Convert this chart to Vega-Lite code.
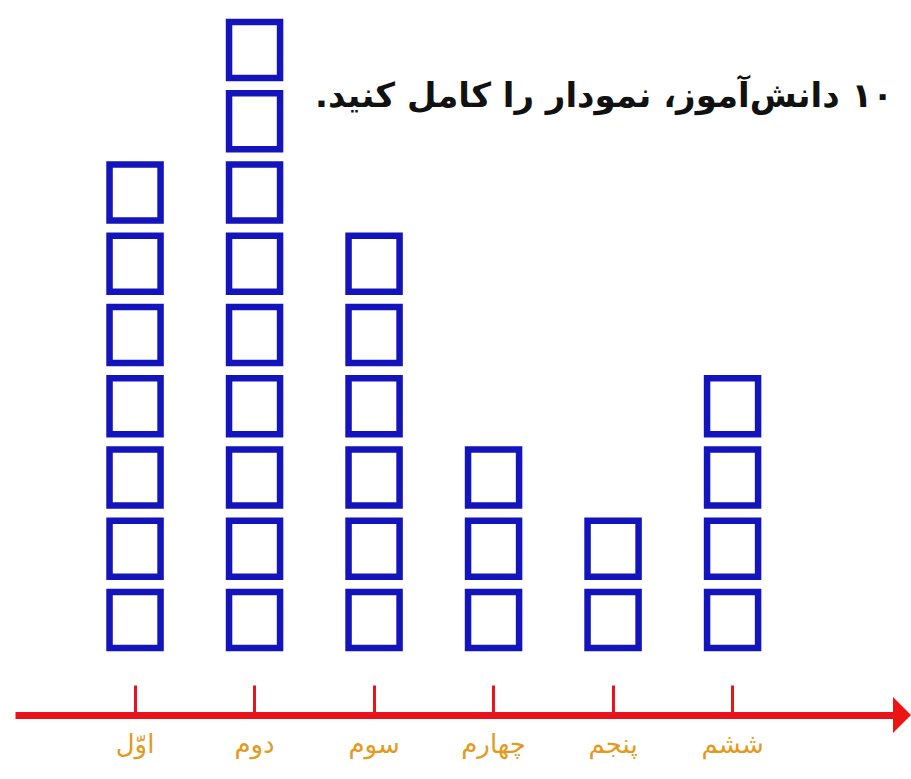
{
  "$schema": "https://vega.github.io/schema/vega-lite/v6.json",
  "width": 878,
  "height": 701,
  "autosize": {"type": "none"},
  "padding": {"left": 15, "top": 14, "right": 18, "bottom": 64},
  "background": "white",
  "config": {"view": {"stroke": null}},
  "title": {
    "text": "\u202b۱۰ دانش\u200cآموز، نمودار را کامل کنید.\u202c",
    "orient": "top",
    "anchor": "end",
    "frame": "group",
    "offset": -100,
    "font": "DejaVu Sans",
    "fontSize": 34,
    "fontWeight": "bold",
    "color": "#111111"
  },
  "layer": [
    {
      "data": {
        "values": [
          {"grade": "اوّل", "idx": 1}, {"grade": "اوّل", "idx": 2}, {"grade": "اوّل", "idx": 3}, {"grade": "اوّل", "idx": 4}, {"grade": "اوّل", "idx": 5}, {"grade": "اوّل", "idx": 6}, {"grade": "اوّل", "idx": 7},
          {"grade": "دوم", "idx": 1}, {"grade": "دوم", "idx": 2}, {"grade": "دوم", "idx": 3}, {"grade": "دوم", "idx": 4}, {"grade": "دوم", "idx": 5}, {"grade": "دوم", "idx": 6}, {"grade": "دوم", "idx": 7}, {"grade": "دوم", "idx": 8}, {"grade": "دوم", "idx": 9},
          {"grade": "سوم", "idx": 1}, {"grade": "سوم", "idx": 2}, {"grade": "سوم", "idx": 3}, {"grade": "سوم", "idx": 4}, {"grade": "سوم", "idx": 5}, {"grade": "سوم", "idx": 6},
          {"grade": "چهارم", "idx": 1}, {"grade": "چهارم", "idx": 2}, {"grade": "چهارم", "idx": 3},
          {"grade": "پنجم", "idx": 1}, {"grade": "پنجم", "idx": 2},
          {"grade": "ششم", "idx": 1}, {"grade": "ششم", "idx": 2}, {"grade": "ششم", "idx": 3}, {"grade": "ششم", "idx": 4}
        ]
      },
      "mark": {"type": "rect", "fill": "white", "stroke": "#1414bc", "strokeWidth": 6.5},
      "encoding": {
        "x": {
          "field": "grade",
          "type": "nominal",
          "scale": {
            "domain": ["اوّل", "دوم", "سوم", "چهارم", "پنجم", "ششم"],
            "paddingInner": 0.573,
            "paddingOuter": 0.96,
            "align": 0.412
          },
          "axis": {
            "title": null,
            "domainColor": "#e8141c",
            "domainWidth": 7,
            "domainCap": "butt",
            "tickColor": "#e8141c",
            "tickWidth": 3,
            "tickSize": -30,
            "labelPadding": 46,
            "labelAngle": 0,
            "labelFont": "DejaVu Sans",
            "labelFontSize": 26,
            "labelColor": "#e39a1e"
          }
        },
        "y": {
          "field": "idx",
          "type": "ordinal",
          "scale": {
            "domain": [9, 8, 7, 6, 5, 4, 3, 2, 1],
            "paddingInner": 0.214,
            "paddingOuter": 0.526,
            "align": 0.107
          },
          "axis": null
        }
      }
    },
    {
      "data": {"values": [{}]},
      "mark": {
        "type": "point",
        "shape": "M0,-1L1,0L0,1Z",
        "filled": true,
        "color": "#ee1414",
        "opacity": 1,
        "size": 1296
      },
      "encoding": {
        "x": {"value": "width"},
        "y": {"value": "height"}
      }
    }
  ]
}
